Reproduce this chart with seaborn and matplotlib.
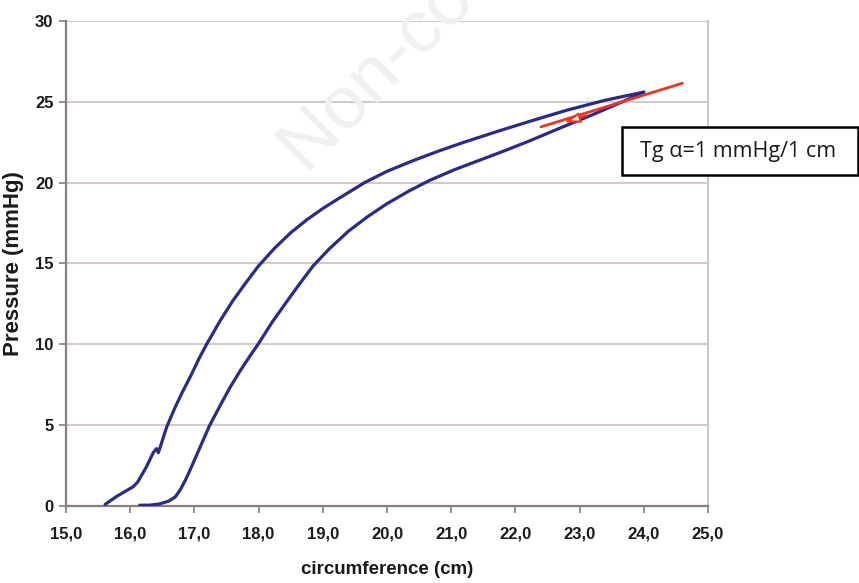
import numpy as np
import pandas as pd
import matplotlib
matplotlib.use("Agg")
import matplotlib.pyplot as plt
import matplotlib.patches as mpatches
import seaborn as sns

# ramura superioara (stanga) a buclei de histerezis
circ_sus = [15.61, 15.80, 16.05, 16.12, 16.25, 16.36, 16.41, 16.44, 16.57, 16.70,
            16.82, 16.95, 17.07, 17.19, 17.40, 17.60, 17.80, 18.00, 18.25, 18.50,
            18.75, 19.00, 19.30, 19.65, 20.00, 20.40, 20.80, 21.20, 21.76, 22.23,
            22.80, 23.40, 24.00]
pres_sus = [0.10, 0.62, 1.20, 1.50, 2.40, 3.30, 3.55, 3.30, 4.90, 6.10,
            7.10, 8.10, 9.10, 10.00, 11.45, 12.70, 13.80, 14.85, 15.95, 16.90,
            17.70, 18.40, 19.15, 20.00, 20.70, 21.35, 21.95, 22.50, 23.22, 23.80,
            24.48, 25.10, 25.60]

# ramura inferioara (dreapta)
circ_jos = [16.15, 16.30, 16.45, 16.60, 16.70, 16.78, 16.86, 16.93, 17.03, 17.14,
            17.24, 17.40, 17.55, 17.72, 17.87, 18.00, 18.20, 18.44, 18.65, 18.85,
            19.10, 19.40, 19.70, 20.00, 20.35, 20.67, 21.05, 21.45, 21.85, 22.23,
            22.80, 23.20, 23.58, 24.00]
pres_jos = [0.05, 0.05, 0.12, 0.30, 0.55, 1.00, 1.60, 2.20, 3.10, 4.10,
            5.00, 6.20, 7.30, 8.40, 9.30, 10.05, 11.30, 12.65, 13.80, 14.85,
            15.90, 17.00, 17.90, 18.70, 19.50, 20.15, 20.80, 21.40, 22.00, 22.60,
            23.55, 24.20, 24.85, 25.60]

# sageata rosie (tangenta)
tang_x = [24.60, 22.40]
tang_y = [26.15, 23.45]

x_ticks = [15, 16, 17, 18, 19, 20, 21, 22, 23, 24, 25]
x_labels = ["15,0", "16,0", "17,0", "18,0", "19,0", "20,0", "21,0", "22,0", "23,0", "24,0", "25,0"]
y_ticks = [0, 5, 10, 15, 20, 25, 30]

sus = pd.DataFrame({"circ": circ_sus, "pres": pres_sus})
jos = pd.DataFrame({"circ": circ_jos, "pres": pres_jos})

sns.set_style("white")
plt.rcParams["font.family"] = ["Liberation Sans", "DejaVu Sans"]

fig = plt.figure(figsize=(8.59, 5.83), dpi=100)
ax = fig.add_axes([0.0768, 0.1321, 0.7474, 0.8319])

albastru = "#2b2a86"
sns.lineplot(data=sus, x="circ", y="pres", sort=False, estimator=None,
             color=albastru, lw=2.3, ax=ax, zorder=3)
sns.lineplot(data=jos, x="circ", y="pres", sort=False, estimator=None,
             color=albastru, lw=2.3, ax=ax, zorder=3)

# sageata rosie
rosu = "#ee3524"
ax.plot(tang_x, tang_y, color=rosu, lw=2.0, zorder=4, solid_capstyle="round")
ax.annotate("", xy=(22.72, 23.68), xytext=(23.15, 24.2),
            arrowprops=dict(arrowstyle="-|>,head_length=0.9,head_width=0.3",
                            color=rosu, lw=1.6, fc="white"), zorder=4)

# watermark
ax.text(18.75, 20.5, "Non-commercial use only", rotation=45, rotation_mode="anchor",
        ha="left", va="baseline", fontsize=54, color="#f0f0f0", zorder=1.5,
        clip_on=False)

ax.set_xlim(15, 25)
ax.set_ylim(0, 30)
ax.set_xticks(x_ticks)
ax.set_xticklabels(x_labels)
ax.set_yticks(y_ticks)

grila = "#d3cbc9"
ax.yaxis.grid(True, color=grila, lw=1.5, zorder=0)
ax.xaxis.grid(False)
ax.set_axisbelow(True)

for s in ["left", "bottom"]:
    ax.spines[s].set_color("#8a7e7c")
    ax.spines[s].set_linewidth(1.6)
ax.spines["right"].set_color("#cfc7c5")
ax.spines["right"].set_linewidth(1.5)
ax.spines["top"].set_visible(False)

ax.tick_params(axis="both", direction="out", length=5, width=1.2, color="#8a7e7c",
               bottom=True, left=True)
ax.tick_params(axis="x", pad=10)
ax.tick_params(axis="y", pad=4)
for lab in ax.get_xticklabels() + ax.get_yticklabels():
    lab.set_fontweight("bold")
    lab.set_fontsize(12)
    lab.set_color("#1a1a1a")

ax.set_xlabel("circumference (cm)", fontsize=13.5, fontweight="bold", labelpad=14,
              color="#1a1a1a")
ax.set_ylabel("Pressure (mmHg)", fontsize=16, fontweight="bold", labelpad=8,
              color="#1a1a1a")

# caseta cu textul
fig.patches.append(mpatches.Rectangle((622 / 859, 1 - 175 / 583), 236 / 859, 48 / 583,
                                      transform=fig.transFigure, fill=True, fc="white",
                                      ec="black", lw=1.8, zorder=5))
fig.text(738 / 859, 1 - 151 / 583, "Tg α=1 mmHg/1 cm", ha="center", va="center",
         fontsize=15.5, family=["Open Sans", "DejaVu Sans"], color="#1a1a1a", zorder=6)

fig.savefig("out.png", dpi=100)
